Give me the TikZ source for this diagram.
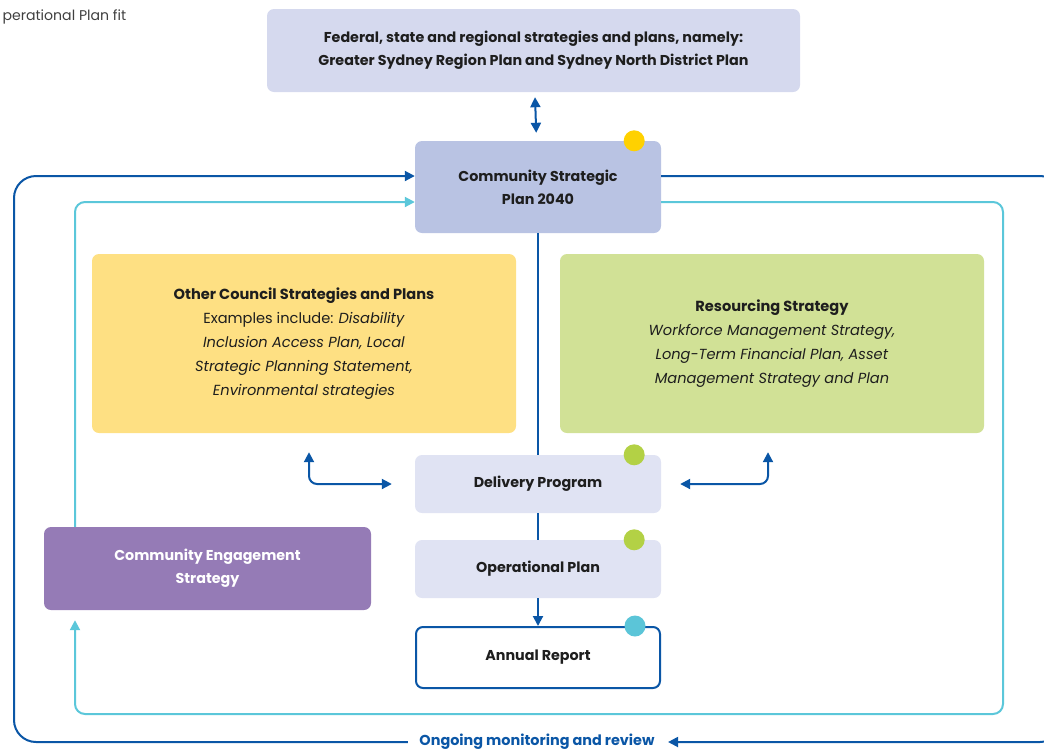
\documentclass[tikz,border=0pt]{standalone}
\usepackage{fontspec}
\setmainfont{Poppins}
\usepackage{tikz}
\usetikzlibrary{shapes,positioning,arrows.meta,calc}

\definecolor{navy}{HTML}{0A56A6}
\definecolor{sky}{HTML}{5BC7DA}
\definecolor{fedfill}{HTML}{D5D9EE}
\definecolor{cspfill}{HTML}{B9C3E3}
\definecolor{planfill}{HTML}{E0E3F3}
\definecolor{otherfill}{HTML}{FEE083}
\definecolor{resfill}{HTML}{D1E196}
\definecolor{cesfill}{HTML}{957BB6}
\definecolor{dotyellow}{HTML}{FFD100}
\definecolor{dotgreen}{HTML}{B3D145}
\definecolor{dotcyan}{HTML}{5BC5D8}
\definecolor{ink}{HTML}{1E1E1E}

\begin{document}
\begin{tikzpicture}[x=1pt,y=-1pt,
    box/.style={rectangle, rounded corners=7pt, align=center, inner sep=0pt,
        text=ink, font=\fontsize{14.6}{24}\selectfont},
    title/.style={box, font=\bfseries\fontsize{14.3}{23}\selectfont},
    dot/.style={circle, inner sep=0pt, minimum size=21pt},
    navyline/.style={draw=navy, line width=2pt},
    skyline/.style={draw=sky, line width=2pt},
    tip/.style={-{Triangle[length=10pt,width=10pt]}},
    both/.style={{Triangle[length=10pt,width=10pt]}-{Triangle[length=10pt,width=10pt]}}]

\useasboundingbox (0,0) rectangle (1044,750);
\clip (0,0) rectangle (1044,750);

\node[anchor=west, font=\fontsize{14.1}{16}\selectfont, text=ink!85] (cap) at (-1,17) {perational Plan fit};

\node[title, fill=fedfill, minimum width=533pt, minimum height=83pt] (fed) at (533.5,50.5) {Federal, state and regional strategies and plans, namely:\\Greater Sydney Region Plan and Sydney North District Plan};
\node[title, fill=cspfill, minimum width=246pt, minimum height=92pt] (csp) at (538,187) {Community Strategic\\Plan 2040};
\node[box, fill=otherfill, minimum width=424pt, minimum height=179pt] (other) at (304,343.5) {\textbf{Other Council Strategies and Plans}\\Examples include: \textit{Disability}\\\textit{Inclusion Access Plan, Local}\\\textit{Strategic Planning Statement,}\\\textit{Environmental strategies}};
\node[box, fill=resfill, minimum width=424pt, minimum height=179pt] (res) at (772,343.5) {\textbf{Resourcing Strategy}\\\textit{Workforce Management Strategy,}\\\textit{Long-Term Financial Plan, Asset}\\\textit{Management Strategy and Plan}};
\node[title, fill=planfill, minimum width=246pt, minimum height=58pt] (del) at (538,484) {Delivery Program};
\node[title, fill=planfill, minimum width=246pt, minimum height=58pt] (op) at (538,569) {Operational Plan};
\node[title, fill=white, draw=navy, line width=2pt, minimum width=244pt, minimum height=61pt] (ann) at (538,657.5) {Annual Report};
\node[title, fill=cesfill, text=white, minimum width=327pt, minimum height=83pt] (ces) at (207.5,568.5) {Community Engagement\\Strategy};
\node[font=\bfseries\fontsize{14.4}{17}\selectfont, text=navy] (mon) at (537,742) {Ongoing monitoring and review};

\coordinate (outerR) at (1062,0);
\coordinate (outerL) at (14,0);
\coordinate (skyR) at (1003,0);
\coordinate (skyL) at (75,0);
\coordinate (skyB) at (0,714);

\draw[navyline, both, shorten <=5pt, shorten >=8pt] (fed) -- (csp);
\draw[navyline] (csp) -- (del);
\draw[navyline] (del) -- (op);
\draw[navyline, tip] (op) -- (ann);
\draw[navyline, both, rounded corners=8pt] ([xshift=5pt,yshift=-19pt]other.south) |- ([xshift=-23pt]del.west);
\draw[navyline, both, rounded corners=8pt] ([xshift=19pt]del.east) -| ([xshift=-4pt,yshift=-19pt]res.south);

\draw[navyline, tip, rounded corners=22pt] ([yshift=11pt]csp.east) -| (outerR |- mon) -- ([xshift=10pt]mon.east);
\draw[navyline, tip, rounded corners=22pt] ([xshift=-8pt]mon.west) -| ([yshift=11pt]csp.west -| outerL) -- ([yshift=11pt]csp.west);

\draw[skyline, tip, rounded corners=10pt] ([yshift=-15pt]csp.east) -| (skyR |- skyB) -| ([yshift=-10pt]ces.south -| skyL);
\draw[skyline, tip, rounded corners=10pt] (ces.north -| skyL) |- ([yshift=-15pt]csp.west);

\node[dot, fill=dotyellow] (dcsp) at ([xshift=-27pt]csp.north east) {};
\node[dot, fill=dotgreen] (ddel) at ([xshift=-27pt]del.north east) {};
\node[dot, fill=dotgreen] (dop) at ([xshift=-27pt]op.north east) {};
\node[dot, fill=dotcyan] (dann) at ([xshift=-26pt]ann.north east) {};

\end{tikzpicture}
\end{document}
